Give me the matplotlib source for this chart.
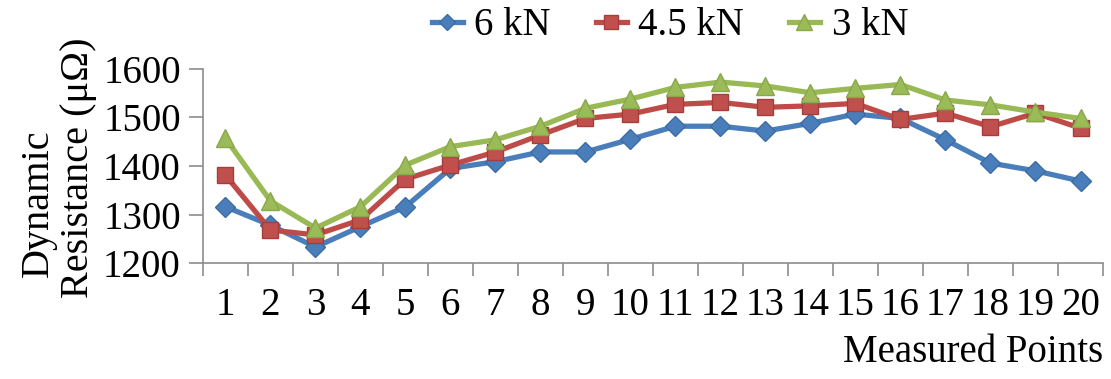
import numpy as np
import matplotlib.pyplot as plt

plt.rcParams['font.family'] = ['Liberation Serif', 'DejaVu Serif']

# Data
points = [str(i) for i in range(1, 21)]
r_6kn = [1316, 1278, 1233, 1275, 1316, 1395, 1409, 1429, 1429, 1455,
         1482, 1482, 1472, 1488, 1507, 1498, 1454, 1406, 1390, 1369]
r_45kn = [1381, 1268, 1258, 1289, 1373, 1402, 1429, 1464, 1498, 1507,
          1527, 1531, 1521, 1524, 1529, 1496, 1509, 1481, 1509, 1478]
r_3kn = [1457, 1328, 1272, 1316, 1402, 1440, 1454, 1482, 1519, 1538,
         1562, 1573, 1565, 1551, 1560, 1568, 1536, 1526, 1511, 1498]

x = np.arange(len(points))

fig = plt.figure(figsize=(11.11, 3.79), dpi=100)
ax = fig.add_axes([0.1827, 0.306, 0.8101, 0.512])

ax.plot(x, r_6kn, color='#4A7EBB', lw=3.8, marker='D', ms=10,
        mfc='#4A7EBB', mec='#3C6CA8', label='6 kN')
ax.plot(x, r_45kn, color='#BE4B48', lw=3.8, marker='s', ms=11.5,
        mfc='#C0504D', mec='#A53E3B', label='4.5 kN')
ax.plot(x, r_3kn, color='#98B954', lw=3.8, marker='^', ms=13,
        mfc='#9BBB59', mec='#88A84A', label='3 kN')

ax.set_xlim(-0.5, len(points) - 0.5)
ax.set_ylim(1200, 1600)
ax.set_yticks([1200, 1300, 1400, 1500, 1600])
ax.set_xticks(x)
ax.set_xticklabels(points)
ax.set_xticks(np.arange(-0.5, len(points)), minor=True)

for side in ['top', 'right']:
    ax.spines[side].set_visible(False)
for side in ['left', 'bottom']:
    ax.spines[side].set_color('#8C8C8C')
    ax.spines[side].set_linewidth(1.2)

ax.tick_params(axis='x', which='major', length=0, pad=17, labelsize=28)
ax.tick_params(axis='x', which='minor', length=9, width=1.2, color='#8C8C8C')
ax.tick_params(axis='y', length=10, width=1.2, color='#8C8C8C', pad=6, labelsize=28)

fig.text(0.9928, 0.045, 'Measured Points', ha='right', va='baseline', fontsize=28)
fig.text(0.018, 0.27, 'Dynamic', rotation=90, ha='left', va='bottom', fontsize=29)
fig.text(0.054, 0.215, 'Resistance (μΩ)', rotation=90, ha='left', va='bottom', fontsize=29)

fig.legend(loc='center', bbox_to_anchor=(0.603, 0.932), ncol=3, frameon=False,
           fontsize=28, handlelength=0.8, handletextpad=0.3, columnspacing=1.15,
           markerscale=0.85)

plt.savefig('out.png', dpi=100)
